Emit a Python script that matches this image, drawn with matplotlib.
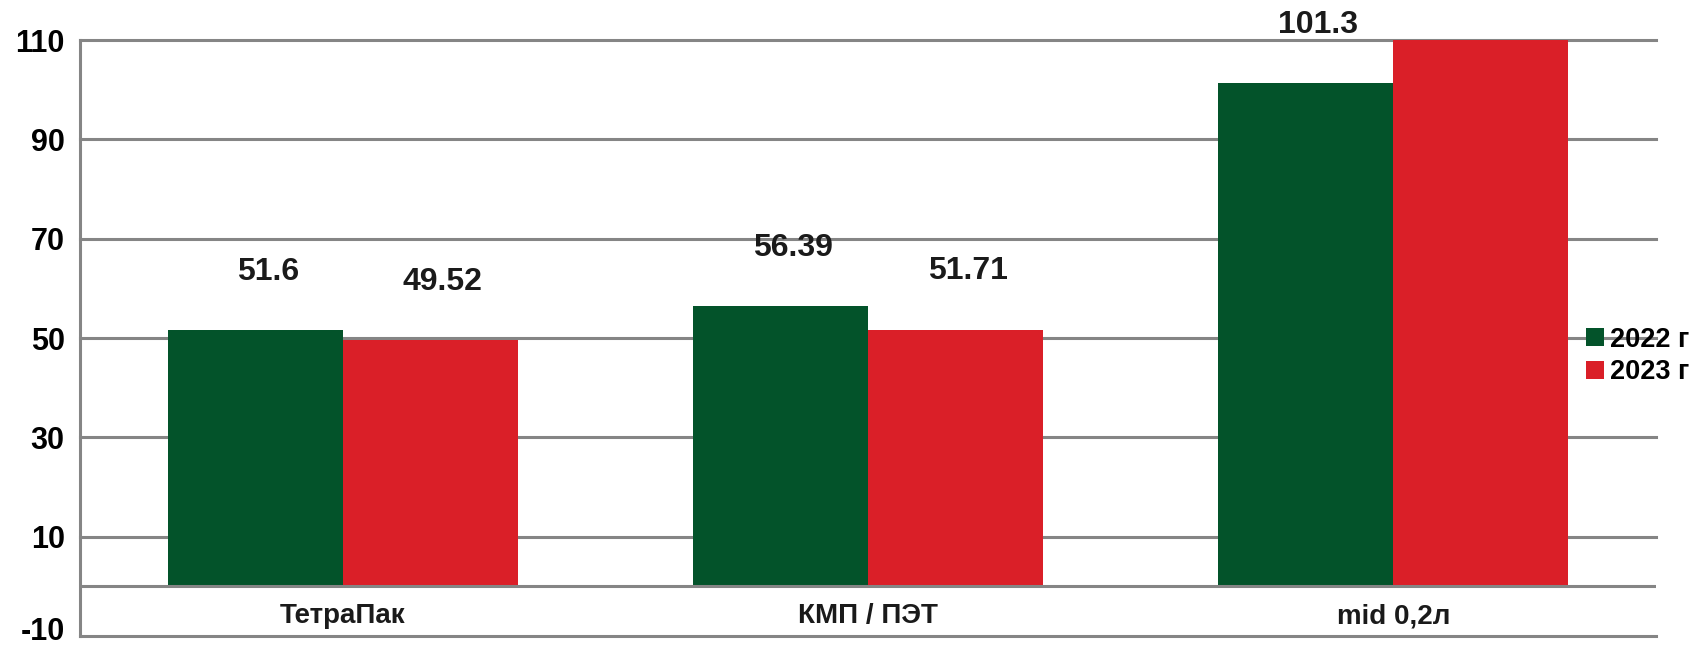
import numpy as np
import matplotlib
matplotlib.use("Agg")
import matplotlib.pyplot as plt
import matplotlib.transforms as mtransforms
from matplotlib.patches import Patch

plt.rcParams['font.family'] = ['Liberation Sans', 'DejaVu Sans']
plt.rcParams['font.weight'] = 'bold'

categories = ["ТетраПак", "КМП / ПЭТ", "mid 0,2л"]
series_names = ["2022 г", "2023 г"]
values_2022 = [51.6, 56.39, 101.3]
values_2023 = [49.52, 51.71, 112.0]   # last bar runs past the top of the axis
labels_2022 = ["51.6", "56.39", "101.3"]
labels_2023 = ["49.52", "51.71", None]
yticks = [-10, 10, 30, 50, 70, 90, 110]

green = '#03532A'
red = '#DA1F28'
grid_col = '#858585'

fig = plt.figure(figsize=(17.03, 6.48), dpi=100)
ax = fig.add_axes([80/1703, 12/648, 1576/1703, 596/648])

x = np.arange(len(categories))
w = 1/3
b1 = ax.bar(x - w/2, values_2022, w, color=green, zorder=3)
b2 = ax.bar(x + w/2, values_2023, w, color=red, zorder=3)

ax.set_xlim(-0.5, 2.5)
ax.set_ylim(-10, 110)

# grid lines and zero line
for yv in [10, 30, 50, 70, 90, 110]:
    ax.axhline(yv, color=grid_col, lw=2.2, zorder=1, clip_on=False)
ax.axhline(0, color=grid_col, lw=2.2, zorder=4)

for s in ['top', 'right']:
    ax.spines[s].set_visible(False)
for s in ['left', 'bottom']:
    ax.spines[s].set_color(grid_col)
    ax.spines[s].set_linewidth(2.2)

ax.set_yticks(yticks)
ax.set_yticklabels([str(t) for t in yticks])
ax.tick_params(axis='y', length=0, pad=11, labelsize=22)
ax.set_xticks([])

# the bottom label sits a little higher, as in the original
lowest = ax.get_yticklabels()[0]
lowest.set_transform(lowest.get_transform() +
                     mtransforms.ScaledTranslation(0, 7/100, fig.dpi_scale_trans))

# category names sit between 0 and -10
for xi, name in zip(x, categories):
    ax.text(xi, -6, name, ha='center', va='center', fontsize=20, color='#1a1a1a')

# value labels, well above the bars
for bars, labs in [(b1, labels_2022), (b2, labels_2023)]:
    for rect, lab in zip(bars, labs):
        if lab is None:
            continue
        ax.annotate(lab, (rect.get_x() + rect.get_width()/2, rect.get_height()),
                    xytext=(9, 42), textcoords='offset points',
                    ha='center', va='center', fontsize=23, color='#1a1a1a',
                    annotation_clip=False, zorder=5)

handles = [Patch(facecolor=green, edgecolor='none'), Patch(facecolor=red, edgecolor='none')]
fig.legend(handles, series_names, loc='center left', bbox_to_anchor=(1586/1703, 1 - 356/648),
           frameon=False, fontsize=19.5, handlelength=0.65, handleheight=0.65,
           handletextpad=0.25, labelspacing=0.25, borderpad=0, borderaxespad=0)

fig.savefig("out.png", dpi=100)
